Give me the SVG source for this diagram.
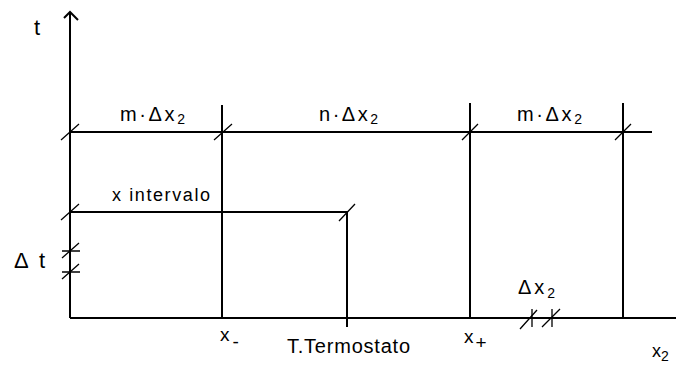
<svg xmlns="http://www.w3.org/2000/svg" width="676" height="365" viewBox="0 0 676 365">
<style>
.l{stroke:#000;stroke-width:2;fill:none}
.k{stroke:#000;stroke-width:1.3;fill:none}
text{font-family:"Liberation Sans",Arial,sans-serif;fill:#000}
.lb{font-size:20px}
.sb{font-size:14px}
</style>
<rect width="676" height="365" fill="#fff"/>
<g id="connectors">
<path class="l" d="M70,318V12M64,18L70,12L78,20"/>
<path class="l" d="M70,318H676"/>
<path class="l" d="M70,132H652"/>
<path class="l" d="M70,212H347V327"/>
<path class="l" d="M222,105V318"/>
<path class="l" d="M470,103V318"/>
<path class="l" d="M623,103V318"/>
<path class="k" d="M62,251H80M62,272H80M532,309V327M552,309V327"/>
<path class="k" d="M61,140L79,124M214,140L232,124M462,140L478,124M615,140L631,124M61,220L79,204M339,221L355,204M62,258L79,243M62,279L79,264M520,329L537,310M542,327L560,309"/>
</g>
<g id="label-t"><text x="34" y="35" font-size="22">t</text></g>
<g id="label-m1"><text class="lb" x="120" y="121" textLength="65">m·Δx<tspan class="sb" dy="3">2</tspan></text></g>
<g id="label-n"><text class="lb" x="319" y="121" textLength="59">n·Δx<tspan class="sb" dy="3">2</tspan></text></g>
<g id="label-m2"><text class="lb" x="517" y="121" textLength="65">m·Δx<tspan class="sb" dy="3">2</tspan></text></g>
<g id="label-interval"><text x="112" y="201" font-size="18" textLength="98">x intervalo</text></g>
<g id="label-dt"><text x="14" y="268" font-size="22" textLength="31">Δ t</text></g>
<g id="label-xminus"><text x="220" y="341" font-size="19">x<tspan dx="3" dy="7">-</tspan></text></g>
<g id="label-termostato"><text x="287" y="353" font-size="20" textLength="123">T.Termostato</text></g>
<g id="label-xplus"><text x="464" y="343" font-size="19">x<tspan dx="2" dy="6">+</tspan></text></g>
<g id="label-dx2"><text class="lb" x="518" y="294" textLength="37">Δx<tspan class="sb" dy="4">2</tspan></text></g>
<g id="label-x2"><text x="652" y="357" font-size="18">x<tspan class="sb" dy="4">2</tspan></text></g>
</svg>
